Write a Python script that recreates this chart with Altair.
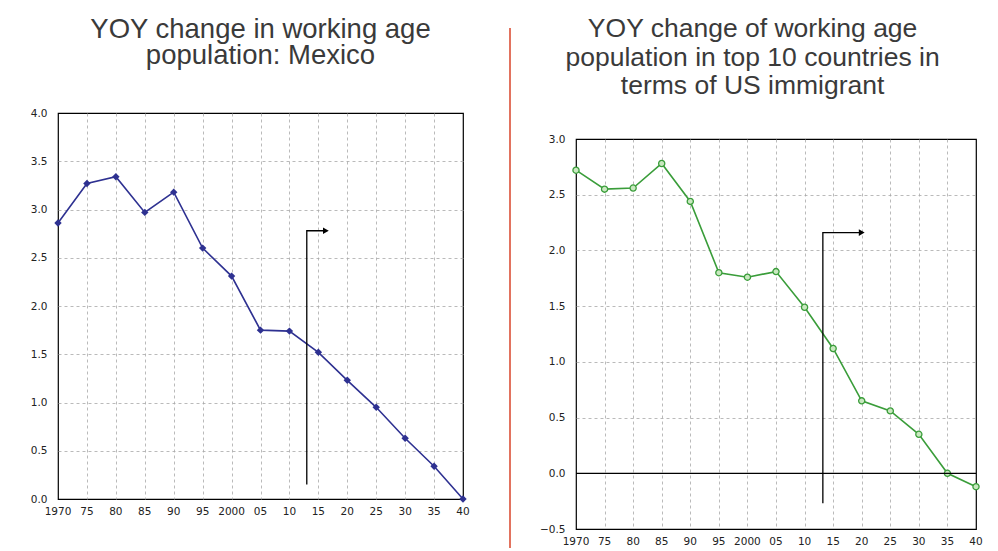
import altair as alt
import pandas as pd

years = [1970, 1975, 1980, 1985, 1990, 1995, 2000, 2005, 2010, 2015, 2020, 2025, 2030, 2035, 2040]
x_labels = ["1970", "75", "80", "85", "90", "95", "2000", "05", "10", "15", "20", "25", "30", "35", "40"]
mexico = [2.86, 3.27, 3.34, 2.97, 3.18, 2.60, 2.31, 1.75, 1.74, 1.52, 1.23, 0.95, 0.63, 0.34, 0.0]
top10 = [2.72, 2.55, 2.56, 2.78, 2.44, 1.80, 1.76, 1.81, 1.49, 1.12, 0.65, 0.56, 0.35, 0.0, -0.12]

left_title = ["YOY change in working age", "population: Mexico"]
right_title = ["YOY change of working age", "population in top 10 countries in", "terms of US immigrant"]

# forecast arrows (annotation paths)
arrow_l_x = [2013, 2013, 2016.3]
arrow_l_y = [0.15, 2.78, 2.78]
arrow_r_x = [2013.2, 2013.2, 2020.0]
arrow_r_y = [-0.27, 2.16, 2.16]

FONT_TICK = "DejaVu Sans"
FONT_TITLE = "Liberation Sans"
LABEL_COLOR = "#222222"


def edge_hidden(lo, hi):
    return {"condition": {"test": "datum.value == %s || datum.value == %s" % (lo, hi), "value": 0},
            "value": 1}


def x_enc():
    return alt.X(
        "year:Q",
        scale=alt.Scale(domain=[years[0], years[-1]], nice=False, zero=False),
        axis=alt.Axis(
            values=years, labels=False, title=None, grid=True,
            gridDash=[3, 3], gridColor="#a8a8a8", gridWidth=0.8,
            gridOpacity=edge_hidden(years[0], years[-1]),
            ticks=False, domain=False,
        ),
    )


def y_enc(domain, vals, field="v"):
    return alt.Y(
        field + ":Q",
        scale=alt.Scale(domain=domain, nice=False, zero=False),
        axis=alt.Axis(
            values=vals, format=".1f", title=None, grid=True,
            gridDash=[3, 3], gridColor="#a8a8a8", gridWidth=0.8,
            gridOpacity=edge_hidden(domain[0], domain[1]),
            ticks=False, domain=False, labelPadding=11, labelOverlap=False,
            labelFont=FONT_TICK, labelFontSize=10.5, labelColor=LABEL_COLOR,
        ),
    )


df_l = pd.DataFrame({"year": years, "v": mexico})
df_r = pd.DataFrame({"year": years, "v": top10})
df_lab = pd.DataFrame({"year": years, "label": x_labels})

yl_dom, yr_dom = [0, 4], [-0.5, 3]
yl_vals = [i * 0.5 for i in range(9)]
yr_vals = [-0.5 + i * 0.5 for i in range(8)]


def x_label_layer(plot_height):
    return alt.Chart(df_lab).mark_text(
        font=FONT_TICK, fontSize=10.5, color=LABEL_COLOR, baseline="top", clip=False
    ).encode(x=x_enc(), y=alt.value(plot_height + 8), text="label:N")


def arrow_layers(xs, ys, ydom, yvals):
    arr = pd.DataFrame({"year": xs, "v": ys, "o": [0, 1, 2]})
    ln = alt.Chart(arr).mark_line(color="black", strokeWidth=1.3).encode(
        x=x_enc(), y=y_enc(ydom, yvals), order="o:O")
    head = alt.Chart(arr.iloc[[2]]).mark_point(
        shape="triangle-right", filled=True, color="black", size=45, opacity=1).encode(
        x=x_enc(), y=y_enc(ydom, yvals))
    return ln, head


# ---- left panel
navy = "#2e3191"
base_l = alt.Chart(df_l).encode(x=x_enc(), y=y_enc(yl_dom, yl_vals))
line_l = base_l.mark_line(color=navy, strokeWidth=1.6)
pts_l = base_l.mark_point(shape="diamond", filled=True, color=navy, size=55, opacity=1)
arrow_line_l, arrow_head_l = arrow_layers(arrow_l_x, arrow_l_y, yl_dom, yl_vals)

left = alt.layer(line_l, pts_l, arrow_line_l, arrow_head_l, x_label_layer(386)).properties(
    width=405, height=386,
    title=alt.TitleParams(
        text=left_title, font=FONT_TITLE, fontSize=27.5, fontWeight="normal",
        color="#3a3a3a", lineHeight=26, anchor="middle", offset=39),
)

# ---- divider between the two panels
divider = alt.Chart(pd.DataFrame({"d": [0]})).mark_rule(
    color="#e2735f", strokeWidth=2, clip=False).encode(
    x=alt.value(18), y=alt.value(-85), y2=alt.value(435)).properties(
    width=25, height=386, view=alt.ViewBackground(stroke="transparent"))

# ---- right panel
green = "#3a9d3a"
base_r = alt.Chart(df_r).encode(x=x_enc(), y=y_enc(yr_dom, yr_vals))
line_r = base_r.mark_line(color=green, strokeWidth=1.6)
pts_r = base_r.mark_point(shape="circle", filled=True, fill="#c9e8c0", stroke=green,
                          strokeWidth=1.3, size=38, opacity=1)
zero = alt.Chart(pd.DataFrame({"v": [0]})).mark_rule(color="black", strokeWidth=1.2).encode(
    y=y_enc(yr_dom, yr_vals))
arrow_line_r, arrow_head_r = arrow_layers(arrow_r_x, arrow_r_y, yr_dom, yr_vals)

right_plot = alt.layer(line_r, pts_r, zero, arrow_line_r, arrow_head_r, x_label_layer(390)).properties(
    width=400, height=390)

spacer = alt.Chart(pd.DataFrame({"d": [0]})).mark_point(opacity=0).encode(
    x=alt.value(0), y=alt.value(0)).properties(
    width=400, height=19, view=alt.ViewBackground(stroke="transparent"))

right = alt.vconcat(spacer, right_plot, spacing=0).properties(
    title=alt.TitleParams(
        text=right_title, font=FONT_TITLE, fontSize=26.5, fontWeight="normal",
        color="#3a3a3a", lineHeight=28.5, anchor="middle", offset=10, dx=-8.5),
)

chart = alt.hconcat(left, divider, right, spacing=20).properties(
    padding={"left": 21, "top": 6, "right": 5, "bottom": 0},
    background="white",
).configure_view(stroke="black", strokeWidth=1.2)

chart.save("out.html", embed_options={"renderer": "svg", "actions": False})
